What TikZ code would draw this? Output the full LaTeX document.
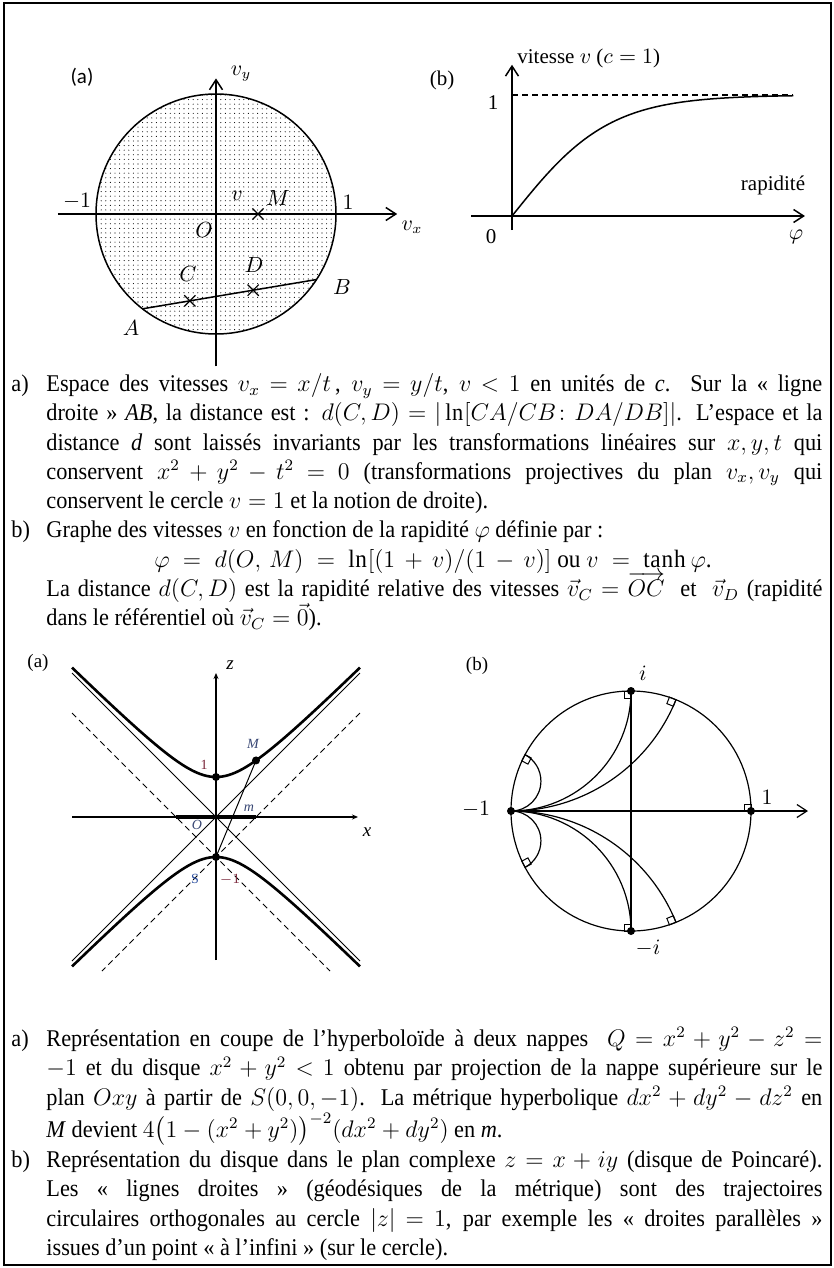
\documentclass[tikz,border=0pt]{standalone}
\usepackage{amsmath}
\usepackage{fontspec}
\setmainfont{Liberation Serif}[FakeStretch=0.93]
\newfontfamily\figfont{Liberation Serif}
\newfontfamily\calfont{Carlito}
\usetikzlibrary{arrows.meta, patterns.meta, shapes.misc, calc}

\definecolor{labred}{RGB}{120,35,55}
\definecolor{labblue}{RGB}{55,70,115}
\definecolor{labS}{RGB}{45,80,160}

\newcommand{\txtsize}{\fontsize{12pt}{14.65pt}\selectfont}
\newcommand{\fst}{\rule{0pt}{11.5pt}}
\thickmuskip=5mu plus 1.5mu
\medmuskip=4mu plus 1mu

\begin{document}
\begin{tikzpicture}[
  x=0.5pt, y=-0.5pt,
  txt/.style={anchor=north west, inner sep=0pt, text width=388pt, align=justify, font=\txtsize},
  itm/.style={anchor=north west, inner sep=0pt, font=\txtsize},
  lab/.style={inner sep=0pt, font=\figfont\fontsize{10.5pt}{12pt}\selectfont},
  small/.style={inner sep=0pt, font=\figfont\fontsize{7pt}{8pt}\selectfont},
  axis/.style={line width=0.75pt},
  thinline/.style={line width=0.5pt},
  crs/.style={cross out, draw, minimum size=5pt, inner sep=0pt, line width=0.6pt},
  rmark/.style={line width=0.5pt},
  >={Straight Barb[length=5pt, width=6.5pt]}
]
\useasboundingbox (0,0) rectangle (834,1268);
\draw[line width=1pt] (4,3.5) rectangle (831,1265);

% (a) espace des vitesses
\begin{scope}[shift={(216,214)}, x=60pt, y=60pt]
  \fill[pattern={Dots[distance=2.3pt, radius=0.28pt]}] (0,0) circle (1);
  \draw[line width=0.75pt] (0,0) circle (1);
  \draw[axis, ->] (-1.317,0) -- (1.51,0);
  \draw[axis, ->] (0,-1.27) -- (0,1.13);
  \coordinate (A) at (232.2:1);
  \coordinate (B) at (326.9:1);
  \draw[line width=0.75pt] (A) -- (B);
  \node[crs] (xM) at (0.35,0) {};
  \node[crs] (xC) at ($(A)!0.272!(B)$) {};
  \node[crs] (xD) at ($(A)!0.636!(B)$) {};
\end{scope}
\node[lab, font=\calfont\fontsize{10.5pt}{12pt}\selectfont] (la) at (82,77) {(a)};
\node[lab] (lvy) at (241,74) {$v_y$};
\node[lab] (lm1) at (77,201) {$-1$};
\node[lab] (lp1) at (348,202) {$1$};
\node[lab] (lvx) at (412,227) {$v_x$};
\node[lab] (lO) at (204,230) {$O$};
\node[lab] (lv) at (237,196) {$v$};
\node[lab] (lM) at (278,198) {$M$};
\node[lab] (lC) at (188,274) {$C$};
\node[lab] (lD) at (254,265) {$D$};
\node[lab] (lB) at (342,287) {$B$};
\node[lab] (lA) at (131,328) {$A$};

% (b) vitesse en fonction de la rapidite
\begin{scope}[shift={(512,216)}, x=48.5pt, y=60.5pt]
  \draw[axis, ->] (-0.42,0) -- (3.02,0);
  \draw[axis, ->] (0,-0.116) -- (0,1.25);
  \draw[dash pattern=on 3pt off 2pt, line width=0.6pt] (0,1) -- (2.9,1);
  \draw[line width=0.75pt] plot[domain=0:2.9, samples=60, smooth] (\x, {tanh(\x)});
\end{scope}
\node[lab] (lb) at (442,80) {(b)};
\node[lab, anchor=west] (lvit) at (517,58) {vitesse $v$ ($c = 1$)};
\node[lab] (lun) at (493,103) {1};
\node[lab] (lrap) at (773,185) {rapidité};
\node[lab] (lzero) at (491,237) {0};
\node[lab] (lphi) at (796,237) {$\varphi$};

% textes du haut
\node[itm] (ia) at (11,368) {\fst a)};
\node[txt] (ta) at (46,368) {\noindent\fst Espace des vitesses $v_x = x/t$\,, $v_y = y/t$, $v < 1$ en unités de \textit{c}. Sur la «~ligne\linebreak droite~» \textit{AB}, la distance est~: $d(C,D) = |\ln[CA/CB\colon DA/DB]|$. L’espace et la\linebreak distance \textit{d} sont laissés invariants par les transformations linéaires sur $x,y,t$ qui\linebreak conservent $x^2+y^2-t^2=0$ (transformations projectives du plan $v_x,v_y$ qui\linebreak conservent le cercle $v=1$ et la notion de droite).};
\node[itm] (ib) at (11,514.5) {\fst b)};
\node[itm] (tb) at (46,514.5) {\fst Graphe des vitesses $v$ en fonction de la rapidité $\varphi$ définie par~:};
\node[itm, anchor=north, font=\fontsize{12.5pt}{14.65pt}\selectfont] (tf) at (433,543.8) {\thickmuskip=10mu \medmuskip=7mu \fst $\varphi = d(O,\,M) = \ln[(1+v)/(1-v)]$ ou $v = \tanh\varphi$.};
\node[txt] (tb2) at (46,573.1) {\noindent\fst La distance $d(C,D)$ est la rapidité relative des vitesses $\vec v_C = \smash{\overrightarrow{OC}}$~ et~ $\vec v_D$ (rapidité\linebreak dans le référentiel où $\vec v_C = \vec 0$).};

% (a) hyperboloide
\begin{scope}[shift={(216,817)}, x=20pt, y=20pt, >={Stealth[length=3pt, width=2.5pt]}]
  \draw[thinline] (-3.6,3.6) -- (3.6,-3.6);
  \draw[thinline] (-3.6,-3.6) -- (3.6,3.6);
  \draw[thinline, dash pattern=on 3pt off 2pt] (-3.6,2.6) -- (2.85,-3.85);
  \draw[thinline, dash pattern=on 3pt off 2pt] (3.6,2.6) -- (-2.85,-3.85);
  \draw[line width=1.3pt] plot[domain=-3.6:3.6, samples=80, smooth] (\x, {sqrt(1+\x*\x)});
  \draw[line width=1.3pt] plot[domain=-3.6:3.6, samples=80, smooth] (\x, {-sqrt(1+\x*\x)});
  \draw[line width=0.6pt, ->] (-3.6,0) -- (3.55,0);
  \draw[line width=0.6pt, ->] (0,-3.58) -- (0,3.6);
  \draw[line width=1.6pt] (-1,0) -- (1,0);
  \coordinate (S) at (0,-1);
  \coordinate (Mh) at (1,{sqrt(2)});
  \coordinate (U) at (0,1);
  \draw[thinline] (S) -- (Mh);
  \fill (U) circle (2pt);
  \fill (Mh) circle (2pt);
  \fill (S) circle (2pt);
\end{scope}
\node[lab, font=\figfont\fontsize{9.5pt}{11pt}\selectfont] (lha) at (38,663) {(a)};
\node[lab, font=\figfont\itshape\fontsize{9.5pt}{11pt}\selectfont] (lz) at (230,665) {z};
\node[lab, font=\figfont\itshape\fontsize{9.5pt}{11pt}\selectfont] (lx) at (367,832) {x};
\node[small, text=labred] (lh1) at (204,765) {1};
\node[small, text=labblue, font=\figfont\itshape\fontsize{7pt}{8pt}\selectfont] (lhM) at (253,744) {M};
\node[small, text=labblue, font=\figfont\itshape\fontsize{7pt}{8pt}\selectfont] (lhm) at (249,808) {m};
\node[small, text=labblue, font=\figfont\itshape\fontsize{7pt}{8pt}\selectfont] (lhO) at (197,825) {O};
\node[small, text=labS] (lhS) at (195,879) {S};
\node[small, text=labred] (lhm1) at (230,880) {$-1$};

% (b) disque de Poincare
\begin{scope}[shift={(631,811)}, x=60pt, y=60pt]
  \draw[line width=0.6pt] (0,0) circle (1);
  \draw[line width=0.6pt, ->] (-1,0) -- (1.475,0);
  \draw[line width=0.6pt] (0,1) -- (0,-1);
  \foreach \s in {1,-1} {
    \begin{scope}[yscale=\s]
      \draw[line width=0.6pt] (-1,0) arc[start angle=-90, end angle=0, radius=1];
      \draw[line width=0.6pt] (-1,0) arc[start angle=-90, end angle=-22, radius=1.4826];
      \draw[line width=0.6pt] (-1,0) arc[start angle=-90, end angle=62, radius=0.2493];
      \foreach \a in {90,68,152}
        \draw[rmark, shift={(\a:1)}, rotate=\a] (0,0) rectangle (-3.5pt,3.5pt);
    \end{scope}
  }
  \draw[rmark, shift={(1,0)}] (0,0) rectangle (-3.5pt,3.5pt);
  \fill (-1,0) circle (2pt);
  \fill (1,0) circle (2pt);
  \fill (0,1) circle (2pt);
  \fill (0,-1) circle (2pt);
\end{scope}
\node[lab, font=\figfont\fontsize{9.5pt}{11pt}\selectfont] (lpb) at (477,666) {(b)};
\node[lab] (lpi) at (643,673) {$i$};
\node[lab] (lpm1) at (476,809) {$-1$};
\node[lab] (lp1b) at (767,797) {$1$};
\node[lab] (lpmi) at (648,948) {$-i$};

% textes du bas
\node[itm] (ic) at (11,1023) {\fst a)};
\node[txt] (tc) at (46,1023) {\noindent\fst Représentation en coupe de l’hyperboloïde à deux nappes~ $Q = x^2+y^2-z^2 =$\linebreak $-1$ et du disque $x^2+y^2<1$ obtenu par projection de la nappe supérieure sur le\linebreak plan $Oxy$ à partir de $S(0,0,-1)$. La métrique hyperbolique $dx^2+dy^2-dz^2$ en\linebreak \textit{M} devient $4\bigl(1-(x^2+y^2)\bigr)^{-2}(dx^2+dy^2)$ en \textit{m}.};
\node[itm] (id) at (11,1144) {\fst b)};
\node[txt] (td) at (46,1144) {\noindent\fst Représentation du disque dans le plan complexe $z = x+iy$ (disque de Poincaré).\linebreak Les «~lignes droites~» (géodésiques de la métrique) sont des trajectoires\linebreak circulaires orthogonales au cercle $|z| = 1$, par exemple les «~droites parallèles~»\linebreak issues d’un point «~à l’infini~» (sur le cercle).};
\end{tikzpicture}
\end{document}
